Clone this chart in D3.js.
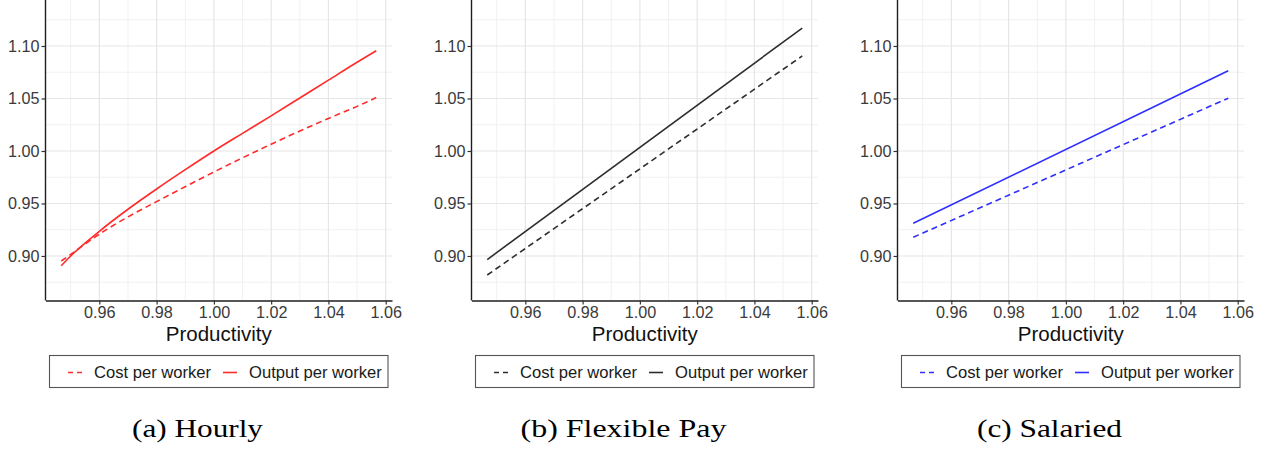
<!DOCTYPE html>
<html>
<head>
<meta charset="utf-8">
<script src="https://cdn.jsdelivr.net/npm/d3@7"></script>
<style>
  html, body { margin: 0; padding: 0; background: #ffffff; }
  svg { display: block; }
</style>
</head>
<body>
<svg id="chart" width="1266" height="449"></svg>
<script>
// Productivity grid for the hourly model (curved response)
const hourlyProductivity = [0.9467, 0.95, 0.96, 0.97, 0.98, 0.99, 1.00, 1.01, 1.02, 1.03, 1.04, 1.05, 1.0567];
const hourlyCost   = [0.8952, 0.9015, 0.9208, 0.9372, 0.9518, 0.9660, 0.9800, 0.9935, 1.0065, 1.0190, 1.0310, 1.0425, 1.0508];
const hourlyOutput = [0.8907, 0.9000, 0.9235, 0.9445, 0.9638, 0.9822, 1.0000, 1.0168, 1.0335, 1.0505, 1.0675, 1.0845, 1.0955];

// Flexible pay and salaried models are linear in productivity
const linearProductivity = [0.9467, 1.0567];
const flexibleCost     = [0.8819, 1.0905];
const flexibleOutput   = [0.8966, 1.1171];
const salariedCost     = [0.9178, 1.0503];
const salariedOutput   = [0.9311, 1.0765];

const seriesNames = ["Cost per worker", "Output per worker"];
const xTicks = [0.96, 0.98, 1.00, 1.02, 1.04, 1.06];
const xMinor = [0.95, 0.97, 0.99, 1.01, 1.03, 1.05];
const yTicks = [0.90, 0.95, 1.00, 1.05, 1.10];
const yMinor = [0.875, 0.925, 0.975, 1.025, 1.075, 1.125];
const captions = ["(a) Hourly", "(b) Flexible Pay", "(c) Salaried"];

const panels = [
  { x: hourlyProductivity, cost: hourlyCost, output: hourlyOutput, color: "#ff2b2b", caption: captions[0], capW: 131 },
  { x: linearProductivity, cost: flexibleCost, output: flexibleOutput, color: "#2e2e2e", caption: captions[1], capW: 206 },
  { x: linearProductivity, cost: salariedCost, output: salariedOutput, color: "#2f2fff", caption: captions[2], capW: 145 }
];

const svg = d3.select("#chart");
const panelStep = 426;
const plotLeft = 45.5, plotTop = 0, plotW = 346.5, plotBottom = 300.5;

const x = d3.scaleLinear().domain([0.9412, 1.0622]).range([0, plotW]);
const y = d3.scaleLinear().domain([0.8576, 1.1438]).range([plotBottom, plotTop]);

const sans = "'Liberation Sans', Arial, sans-serif";
const serif = "'Liberation Serif', 'Times New Roman', serif";

panels.forEach((p, i) => {
  const g = svg.append("g").attr("transform", `translate(${plotLeft + i * panelStep},0)`);

  // minor grid
  g.append("g").selectAll("line").data(xMinor).join("line")
    .attr("x1", d => x(d)).attr("x2", d => x(d))
    .attr("y1", plotTop).attr("y2", plotBottom)
    .attr("stroke", "#f1f1f1").attr("stroke-width", 1);
  g.append("g").selectAll("line").data(yMinor).join("line")
    .attr("x1", 0).attr("x2", plotW)
    .attr("y1", d => y(d)).attr("y2", d => y(d))
    .attr("stroke", "#f1f1f1").attr("stroke-width", 1);
  // major grid
  g.append("g").selectAll("line").data(xTicks).join("line")
    .attr("x1", d => x(d)).attr("x2", d => x(d))
    .attr("y1", plotTop).attr("y2", plotBottom)
    .attr("stroke", "#e6e6e6").attr("stroke-width", 1.2);
  g.append("g").selectAll("line").data(yTicks).join("line")
    .attr("x1", 0).attr("x2", plotW)
    .attr("y1", d => y(d)).attr("y2", d => y(d))
    .attr("stroke", "#e6e6e6").attr("stroke-width", 1.2);

  // series
  const line = d3.line().curve(d3.curveMonotoneX)
    .x(d => x(d[0])).y(d => y(d[1]));
  const costPts = p.x.map((v, k) => [v, p.cost[k]]);
  const outPts = p.x.map((v, k) => [v, p.output[k]]);
  g.append("path").datum(costPts).attr("d", line)
    .attr("fill", "none").attr("stroke", p.color).attr("stroke-width", 1.6)
    .attr("stroke-dasharray", "6,4");
  g.append("path").datum(outPts).attr("d", line)
    .attr("fill", "none").attr("stroke", p.color).attr("stroke-width", 1.6);

  // axes
  const xAxis = d3.axisBottom(x).tickValues(xTicks).tickFormat(d3.format(".2f"))
    .tickSize(4).tickSizeOuter(0).tickPadding(2);
  const yAxis = d3.axisLeft(y).tickValues(yTicks).tickFormat(d3.format(".2f"))
    .tickSize(4).tickSizeOuter(0).tickPadding(2);

  const ax = g.append("g").attr("transform", `translate(0,${plotBottom})`).call(xAxis);
  const ay = g.append("g").call(yAxis);
  [ax, ay].forEach(a => {
    a.select(".domain").attr("stroke", "#1e1e1e").attr("stroke-width", 1.4);
    a.selectAll(".tick line").attr("stroke", "#333333").attr("stroke-width", 1.2);
    a.selectAll(".tick text").attr("fill", "#3b3b3b")
      .style("font-family", sans).style("font-size", "16.2px");
  });
  ay.select(".domain").attr("d", `M0,${plotBottom}V0`);

  // axis title
  g.append("text")
    .attr("x", plotW / 2).attr("y", 340.5)
    .attr("text-anchor", "middle")
    .style("font-family", sans).style("font-size", "20.5px")
    .attr("fill", "#111111")
    .text("Productivity");

  // legend
  const lg = g.append("g").attr("transform", "translate(4,355.5)");
  lg.append("rect").attr("width", 338.5).attr("height", 32)
    .attr("fill", "#ffffff").attr("stroke", "#555555").attr("stroke-width", 1.1);
  const keyY = 17;
  const items = [
    { name: seriesNames[0], dash: "5,4", kx: 18.5, tx: 44.5 },
    { name: seriesNames[1], dash: null, kx: 173.5, tx: 199.5 }
  ];
  items.forEach(it => {
    const k = lg.append("line").attr("x1", it.kx).attr("x2", it.kx + 14)
      .attr("y1", keyY).attr("y2", keyY)
      .attr("stroke", p.color).attr("stroke-width", 1.6);
    if (it.dash) k.attr("stroke-dasharray", it.dash);
    lg.append("text").attr("x", it.tx).attr("y", 22.3)
      .style("font-family", sans).style("font-size", "16.6px")
      .attr("fill", "#1a1a1a").text(it.name);
  });

  // caption below the panel
  svg.append("text")
    .attr("x", 197.5 + i * panelStep).attr("y", 437)
    .attr("text-anchor", "middle")
    .style("font-family", serif).style("font-size", "25px").style("font-weight", "400")
    .attr("fill", "#000000")
    .attr("textLength", p.capW).attr("lengthAdjust", "spacingAndGlyphs")
    .text(p.caption);
});
</script>
</body>
</html>
